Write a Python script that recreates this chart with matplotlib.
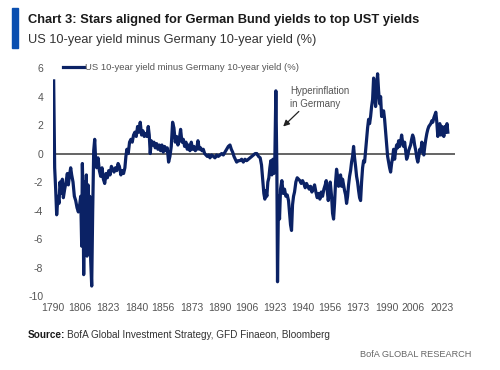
import matplotlib
matplotlib.use("Agg")
import matplotlib.pyplot as plt
from matplotlib.patches import Rectangle

# spread readings taken off the chart (fractional year, %)
years = [1790.4, 1791.0, 1791.6, 1792.2, 1793.0, 1793.6, 1794.2, 1795.0, 1795.6, 1796.2,
         1797.0, 1797.8, 1798.6, 1799.2, 1799.8, 1800.6, 1801.2, 1802.0, 1802.8, 1803.6,
         1804.4, 1805.2, 1806.0, 1806.6, 1807.2, 1807.6, 1808.0, 1808.4, 1809.0, 1809.6,
         1810.0, 1810.4, 1811.0, 1811.6, 1812.0, 1812.6, 1813.2, 1813.8, 1814.4, 1815.0,
         1815.6, 1816.2, 1817.0, 1817.8, 1818.6, 1819.4, 1820.2, 1821.0, 1821.8, 1822.6,
         1823.4, 1824.2, 1825.0, 1825.8, 1826.6, 1827.4, 1828.2, 1829.0, 1829.8, 1830.7,
         1831.5, 1832.3, 1833.1, 1833.7, 1834.3, 1835.1, 1835.9, 1836.7, 1837.5, 1838.3,
         1839.1, 1839.9, 1840.7, 1841.5, 1842.3, 1843.1, 1843.9, 1844.7, 1845.5, 1846.3,
         1847.1, 1847.7, 1848.3, 1848.9, 1849.7, 1850.5, 1851.3, 1852.1, 1852.9, 1853.7,
         1854.5, 1855.3, 1856.1, 1856.9, 1857.7, 1858.5, 1859.3, 1860.1, 1860.9, 1861.7,
         1862.5, 1863.3, 1864.1, 1864.9, 1865.7, 1866.5, 1867.3, 1868.1, 1868.9, 1869.7,
         1870.5, 1871.3, 1872.1, 1872.9, 1873.7, 1874.5, 1875.3, 1876.1, 1876.9, 1877.7,
         1878.5, 1879.3, 1880.1, 1880.9, 1881.7, 1882.5, 1883.3, 1884.1, 1885.1, 1886.1,
         1887.1, 1888.1, 1889.1, 1890.1, 1891.1, 1892.1, 1893.1, 1894.1, 1895.1, 1896.1,
         1896.9, 1897.7, 1898.5, 1899.3, 1900.1, 1901.1, 1902.1, 1903.1, 1904.1, 1905.1,
         1906.1, 1907.1, 1908.2, 1909.2, 1910.2, 1911.2, 1912.2, 1913.2, 1914.2, 1915.0,
         1915.8, 1916.4, 1917.0, 1917.6, 1918.2, 1918.8, 1919.4, 1920.0, 1920.6, 1921.2,
         1921.8, 1922.4, 1923.0, 1923.6, 1924.2, 1924.6, 1925.2, 1925.8, 1926.4, 1927.2,
         1928.0, 1928.8, 1929.6, 1930.4, 1931.2, 1931.8, 1932.4, 1933.0, 1933.6, 1934.2,
         1934.8, 1935.6, 1936.4, 1937.2, 1938.0, 1938.8, 1939.6, 1940.4, 1941.2, 1942.0,
         1942.8, 1943.6, 1944.4, 1945.2, 1946.0, 1946.8, 1947.6, 1948.4, 1949.2, 1950.0,
         1950.8, 1951.6, 1952.4, 1953.2, 1953.8, 1954.4, 1955.0, 1955.6, 1956.2, 1957.0,
         1957.6, 1958.2, 1958.8, 1959.4, 1960.0, 1960.6, 1961.2, 1961.8, 1962.4, 1963.0,
         1963.6, 1964.2, 1964.8, 1965.4, 1966.0, 1966.6, 1967.2, 1967.8, 1968.4, 1969.0,
         1969.6, 1970.2, 1970.8, 1971.4, 1972.0, 1972.6, 1973.2, 1973.8, 1974.4, 1975.0,
         1975.6, 1976.2, 1976.8, 1977.4, 1978.0, 1978.6, 1979.2, 1979.8, 1980.4, 1981.0,
         1981.6, 1982.2, 1982.8, 1983.4, 1984.0, 1984.6, 1985.2, 1985.8, 1986.4, 1987.0,
         1987.6, 1988.2, 1988.8, 1989.4, 1990.0, 1990.6, 1991.2, 1991.8, 1992.4, 1993.0,
         1993.6, 1994.2, 1994.8, 1995.4, 1996.0, 1996.6, 1997.2, 1997.8, 1998.4, 1999.0,
         1999.6, 2000.2, 2000.8, 2001.4, 2002.0, 2002.6, 2003.2, 2003.8, 2004.4, 2005.0,
         2005.6, 2006.2, 2006.8, 2007.5, 2008.1, 2008.7, 2009.3, 2009.9, 2010.5, 2011.1,
         2011.7, 2012.3, 2012.9, 2013.5, 2014.1, 2014.7, 2015.3, 2015.9, 2016.5, 2017.1,
         2017.7, 2018.3, 2018.9, 2019.5, 2020.1, 2020.7, 2021.3, 2021.9, 2022.5, 2023.1,
         2023.7, 2024.3, 2024.9, 2025.5, 2026.2, 2026.7]
spread = [5.1, -1.0, -2.5, -4.3, -3.0, -3.5, -2.0, -2.8, -1.8, -3.1,
          -2.5, -2.0, -1.4, -2.2, -1.6, -1.0, -1.5, -2.0, -3.0, -3.3,
          -3.8, -4.1, -3.6, -3.0, -6.5, -0.7, -3.0, -8.5, -2.0, -6.0,
          -1.5, -7.2, -2.2, -4.5, -3.0, -7.5, -9.3, -4.0, 0.2, 1.0,
          -0.5, -1.0, -0.3, -1.2, -1.6, -1.0, -1.8, -2.1, -1.4, -1.7,
          -1.2, -1.5, -0.9, -1.1, -1.3, -1.0, -1.2, -0.7, -0.9, -1.5,
          -1.2, -1.4, -1.0, -0.2, 0.3, 0.0, 0.8, 1.0, 0.8, 1.3,
          1.5, 1.2, 1.9, 1.5, 2.2, 1.3, 1.6, 1.2, 1.4, 1.2,
          1.9, 1.3, 0.0, 0.9, 0.6, 0.8, 0.4, 0.7, 0.3, 0.6,
          0.2, 0.6, 0.1, 0.5, 0.2, 0.4, -0.6, -0.2, 0.5, 2.2,
          1.8, 0.8, 1.2, 0.6, 1.0, 1.7, 0.8, 1.0, 0.5, 0.8,
          0.3, 0.6, 0.2, 0.8, 0.3, 0.5, 0.2, 0.3, 0.9, 0.3,
          0.4, 0.2, 0.3, 0.0, -0.1, -0.2, -0.1, -0.3, -0.1, -0.2,
          -0.3, -0.1, -0.2, -0.1, 0.0, -0.1, 0.1, 0.3, 0.5, 0.6,
          0.3, 0.1, -0.2, -0.4, -0.6, -0.5, -0.5, -0.4, -0.6, -0.4,
          -0.5, -0.4, -0.3, -0.2, -0.1, 0.0, 0.0, -0.2, -0.3, -0.8,
          -2.0, -2.8, -3.2, -2.6, -3.0, -2.0, -1.7, -1.0, -0.5, -1.5,
          -0.4, -1.4, -0.3, 4.4, -1.0, -9.0, -3.0, -4.6, -2.5, -1.9,
          -2.8, -2.5, -3.0, -2.9, -3.3, -4.2, -5.0, -5.4, -3.6, -3.0,
          -2.7, -2.0, -1.7, -1.8, -1.9, -2.1, -1.9, -2.1, -2.4, -2.1,
          -2.3, -2.5, -2.3, -2.7, -2.5, -2.2, -2.7, -3.1, -2.8, -3.2,
          -2.7, -3.0, -2.5, -2.2, -1.9, -2.6, -3.3, -2.8, -2.0, -3.0,
          -4.2, -4.6, -3.5, -2.0, -1.1, -1.6, -2.3, -1.7, -1.5, -2.3,
          -1.8, -2.2, -2.6, -2.9, -3.5, -3.0, -2.2, -1.6, -1.2, -0.6,
          -0.2, 0.5, -0.3, -0.9, -1.6, -2.0, -2.6, -3.1, -3.3, -2.0,
          -1.0, -0.5, -0.6, 0.2, 1.0, 1.8, 2.4, 2.1, 2.6, 3.3,
          3.8, 5.3, 4.2, 3.3, 4.8, 5.6, 4.4, 3.5, 4.0, 2.6,
          2.8, 3.0, 2.4, 1.5, 0.5, -0.2, -0.6, -1.0, -1.3, -0.7,
          -0.3, 0.3, -0.4, 0.2, 0.6, 0.4, 0.9, 0.5, 0.8, 1.3,
          0.8, 0.5, 0.8, 0.2, -0.4, -0.2, 0.2, 0.4, 0.6, 1.0,
          1.3, 1.1, 0.6, 0.2, -0.3, -0.6, -0.2, 0.3, 0.1, 0.8,
          0.3, -0.1, 0.5, 1.0, 1.4, 1.7, 1.9, 2.0, 2.1, 2.3,
          2.2, 2.5, 2.7, 2.9, 2.2, 1.2, 1.8, 2.1, 1.3, 1.9,
          1.7, 1.2, 1.9, 1.5, 2.1, 1.5]

tick_years = [1790, 1806, 1823, 1840, 1856, 1873, 1890, 1906, 1923, 1940,
              1956, 1973, 1990, 2006, 2023]
y_ticks = [6, 4, 2, 0, -2, -4, -6, -8, -10]

navy = "#0b2265"
grey = "#555555"
plt.rcParams["font.family"] = ["Liberation Sans", "DejaVu Sans"]

fig = plt.figure(figsize=(5, 3.7), dpi=100)
ax = fig.add_axes([0.106, 0.2, 0.804, 0.616])
renderer = fig.canvas.get_renderer()


def fit_width(txt, width_px):
    # shrink/grow a text so it spans roughly the same width as in the reference
    w = txt.get_window_extent(renderer).width
    txt.set_fontsize(txt.get_fontsize() * width_px / w)


ax.axhline(0, color="#3a3a3a", lw=1.1, zorder=1)
ax.plot(years, spread, color=navy, lw=2.3, zorder=2,
        label="US 10-year yield minus Germany 10-year yield (%)")

ax.set_xlim(1790, 2031)
ax.set_ylim(-10, 6)
ax.set_xticks(tick_years)
ax.set_xticklabels([str(t) for t in tick_years], fontsize=7.5, color=grey)
ax.set_yticks(y_ticks)
ax.set_yticklabels([str(t) for t in y_ticks], fontsize=7.5, color=grey)
ax.tick_params(axis="y", length=0, pad=7)
ax.tick_params(axis="x", length=0, pad=5)
for s in ax.spines.values():
    s.set_visible(False)

leg = ax.legend(loc="upper left", bbox_to_anchor=(0.01, 1.045), frameon=False,
                handlelength=2.3, handletextpad=0.1, borderaxespad=0.2,
                prop={"size": 6.8})
for t in leg.get_texts():
    t.set_color(grey)

ann = ax.annotate("Hyperinflation\nin Germany", xy=(1928, 1.9), xytext=(1932, 4.75),
                  textcoords="data", ha="left", va="top", fontsize=7, color=grey,
                  linespacing=1.35,
                  arrowprops=dict(arrowstyle="-|>", color="#222222", lw=0.9,
                                  shrinkA=0, shrinkB=0, mutation_scale=9,
                                  relpos=(0.2, 0.0)))

# header
fig.patches.append(Rectangle((0.024, 0.870), 0.012, 0.108, transform=fig.transFigure,
                             color="#0a4fb0", zorder=3))
title = fig.text(0.056, 0.946, "Chart 3: Stars aligned for German Bund yields to top UST yields",
                 fontsize=9, fontweight="bold", color="#1a1a1a", va="center")
fit_width(title, 392)
sub = fig.text(0.056, 0.892, "US 10-year yield minus Germany 10-year yield (%)",
               fontsize=9, color="#333333", va="center")
fit_width(sub, 288)

# footer
src = fig.text(0.056, 0.094, "Source:", fontsize=7.2, fontweight="bold",
               color="#1a1a1a", va="center")
bb = src.get_window_extent(renderer)
fig.text(bb.x1 / fig.bbox.width + 0.004, 0.094,
         "BofA Global Investment Strategy, GFD Finaeon, Bloomberg",
         fontsize=7.2, color="#333333", va="center")
brand = fig.text(0.942, 0.043, "BofA GLOBAL RESEARCH", fontsize=7.5, color="#666666",
                 ha="right", va="center")
fit_width(brand, 111)

fig.savefig("out.png", dpi=100)
